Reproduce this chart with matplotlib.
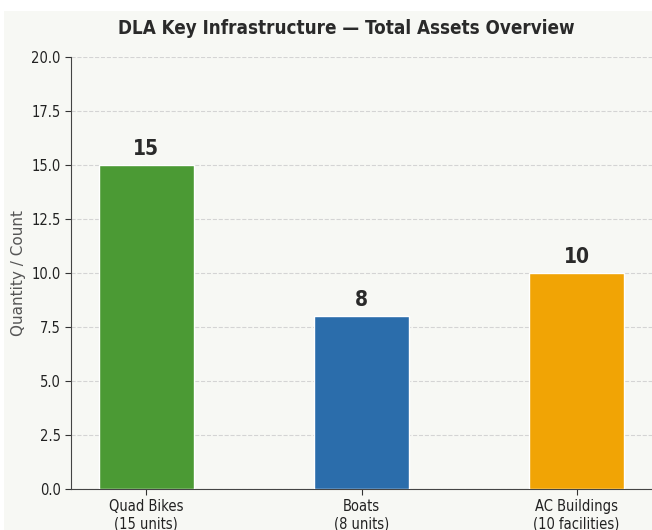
import matplotlib.pyplot as plt
from matplotlib.patches import Rectangle

categories = ['Quad Bikes\n(15 units)', 'Boats\n(8 units)', 'AC Buildings\n(10 facilities)']
values = [15, 8, 10]
colors = ['#4b9a34', '#2b6dab', '#f1a405']
yticks = [0.0, 2.5, 5.0, 7.5, 10.0, 12.5, 15.0, 17.5, 20.0]

bg = '#f7f8f4'
plt.rcParams['font.family'] = 'DejaVu Sans'
plt.rcParams['font.stretch'] = 'condensed'

fig = plt.figure(figsize=(6.52, 5.30), dpi=100, facecolor='white')
# light panel (the white strip on top/left is part of the original crop)
fig.patches.append(Rectangle((4 / 652, 0), 1, (530 - 11) / 530, transform=fig.transFigure,
                             facecolor=bg, edgecolor='none', zorder=-10))

ax = fig.add_axes([71 / 652, 41 / 530, 1 - 71 / 652, (489 - 57) / 530])
ax.set_facecolor(bg)

x = range(len(values))
bars = ax.bar(x, values, width=0.44, color=colors, edgecolor='white', linewidth=1, zorder=3)

for xi, v in zip(x, values):
    ax.text(xi, v + 0.3, str(v), ha='center', va='bottom', fontsize=15,
            fontweight='bold', color='#2a2a2a', fontstretch='condensed')

ax.set_xlim(-0.35, 2.35)
ax.set_ylim(0, 20)
ax.set_yticks(yticks)
ax.set_yticklabels([f'{t:.1f}' for t in yticks], fontsize=10.5, fontstretch='condensed')
ax.set_xticks(list(x))
ax.set_xticklabels(categories, fontsize=10.5, fontstretch='condensed')
ax.set_ylabel('Quantity / Count', fontsize=11, color='#555555', labelpad=4,
              fontstretch='normal')

ax.grid(axis='y', linestyle='--', color='#d4d4d4', linewidth=0.8, zorder=0)
ax.spines['top'].set_visible(False)
ax.spines['right'].set_visible(False)
ax.spines['left'].set_color('#444444')
ax.spines['bottom'].set_color('#444444')
ax.tick_params(colors='#333333', length=4)
ax.tick_params(axis='both', labelcolor='#222222')

fig.text(346 / 652, (530 - 29) / 530, 'DLA Key Infrastructure \u2014 Total Assets Overview',
         ha='center', va='center', fontsize=13.5, fontweight='bold', color='#2a2a2a',
         fontstretch='condensed')

fig.savefig('out.png', dpi=100, facecolor=fig.get_facecolor())
